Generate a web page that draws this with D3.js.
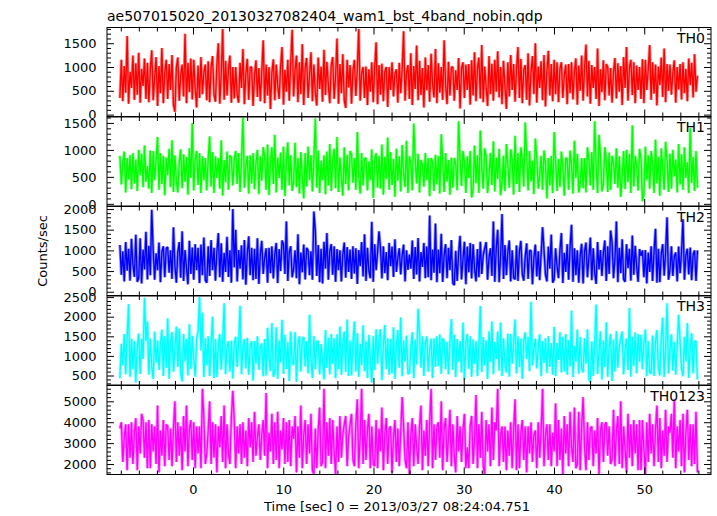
<!DOCTYPE html>
<html><head><meta charset="utf-8">
<script src="https://cdn.jsdelivr.net/npm/d3@7"></script>
<style>
html,body{margin:0;padding:0;background:#fff;}
svg{display:block;}
text{font-family:"DejaVu Sans",sans-serif;fill:#000;}
</style></head>
<body>
<svg id="chart" width="717" height="516"></svg>
<script>
// ---------- data ----------
const chartTitle = "ae507015020_20130327082404_wam1_bst_4band_nobin.qdp";
const xTitle = "Time [sec] 0 = 2013/03/27 08:24:04.751";
const yTitle = "Counts/sec";
const bandNames = ["TH0", "TH1", "TH2", "TH3", "TH0123"];
const bandColors = ["#ff0000", "#00ff00", "#0000ff", "#00ffff", "#ff00ff"];
const binStart = -8.1;     // sec
const binWidth = 0.1604;   // sec
const xTicks = [0, 10, 20, 30, 40, 50];

const th0 = [350,1150,280,1020,460,1650,230,900,560,1240,310,1080,420,1300,250,960,600,1180,330,1090,
260,940,1350,300,780,1210,180,1020,450,1400,240,880,1150,330,1060,520,1250,210,60,990,
1200,290,830,1050,380,1700,240,1090,470,1180,320,1150,560,150,1030,350,1210,430,880,1050,
300,1120,260,980,1230,420,270,1060,1500,230,840,1800,310,1130,400,960,1240,250,1000,340,
1000,420,250,1090,560,1380,220,850,1170,310,990,1000,180,820,1140,370,980,280,900,1560,
240,1050,400,1000,120,880,1160,300,1050,620,330,1000,1420,210,940,480,1150,290,1080,1780,
380,950,1240,260,1100,430,1480,200,980,1190,350,830,1310,280,1050,460,190,1200,540,1010,
270,1360,410,1110,620,240,1030,1210,330,800,1600,230,1060,450,1270,300,140,1150,570,1040,
230,920,1150,390,950,1800,290,870,1000,350,1010,200,950,480,1100,260,960,1520,220,1040,
420,1070,280,900,1000,160,1000,520,1100,380,860,950,250,1090,450,960,1750,290,880,1040,
330,1290,200,1020,540,1450,300,1130,410,980,150,1200,510,1040,270,1280,650,360,1380,240,
1080,460,1000,310,1560,620,220,1110,400,990,1000,290,930,520,1190,130,960,1100,350,1050,
520,1060,210,1140,400,1310,280,960,1200,340,1460,260,1010,580,180,1230,430,1070,290,1150,
480,1330,360,1000,220,1130,590,120,1100,380,1250,520,1060,270,960,1420,350,1170,240,940,
1040,310,1290,190,890,1230,430,1500,250,1010,560,1120,300,1250,170,920,1340,400,1060,280,
1150,430,1100,260,960,1100,350,820,1050,220,1060,450,1100,320,900,1180,210,1030,500,1240,
290,980,1470,380,1130,230,1040,560,1000,330,1390,180,950,470,1140,300,1060,1000,400,980,
250,900,1190,340,1080,480,1020,200,1210,560,1420,290,980,1150,410,1100,240,1030,520,1000,
330,1160,240,1150,520,950,1460,310,1100,440,1050,190,1010,620,1200,370,1390,260,1060,500,
1050,420,880,1140,250,1000,530,1060,320,1100,450,960,280,1180,620,1090,360,1270,480,820];

const th1 = [890,360,750,970,210,850,450,900,270,940,380,820,240,1000,530,930,310,1080,410,700,
280,990,200,980,440,810,1240,260,940,370,890,160,860,530,1020,310,1180,220,900,430,
210,770,1010,290,920,410,870,170,1030,480,1500,250,830,980,350,940,200,880,440,850,
250,830,1250,320,960,200,880,480,850,280,1180,150,810,400,970,260,900,850,340,830,
980,370,940,220,820,1600,300,700,890,190,900,380,940,270,770,1000,180,880,430,1050,
880,260,1100,160,760,1050,370,1280,210,860,480,950,260,1060,140,780,1140,340,900,240,
410,1130,310,850,190,960,500,100,940,320,1060,440,900,230,820,1580,300,990,200,800,
440,900,180,970,340,1110,240,820,1020,290,1240,220,860,490,150,1050,370,910,250,980,
920,390,850,260,1330,530,190,940,340,840,850,250,790,440,1010,110,820,940,300,890,
280,1100,170,870,460,1230,260,960,350,830,130,1020,430,880,230,1090,550,310,1170,200,
880,750,250,1490,820,380,930,210,810,730,320,940,440,850,140,850,770,240,910,360,
880,190,1290,820,220,940,410,810,170,860,300,850,740,250,1530,810,330,980,780,200,
880,480,980,120,260,1080,380,900,200,1360,680,280,1030,880,200,530,940,350,1160,230,
860,460,1020,160,390,890,240,1110,710,300,1010,830,170,1260,370,940,220,1050,810,320,
1510,920,250,980,410,800,180,1210,850,280,530,890,260,990,750,100,850,340,890,200,
1330,770,240,830,310,970,700,150,850,840,260,990,720,190,1170,480,930,210,360,850,
290,850,210,1050,820,340,960,260,1530,710,200,1280,900,230,360,1050,830,220,950,260,
890,750,370,1030,300,880,130,480,980,270,1000,400,930,200,1450,320,890,710,250,1020,
840,50,180,1060,440,900,280,980,750,200,1190,380,870,150,1030,660,260,1150,800,220,
930,280,1000,510,820,210,1110,360,920,260,1050,480,770,200,1400,390,870,240,980,300];

const th2 = [1130,410,980,250,1200,510,1040,270,1280,650,360,1380,240,330,1290,200,1020,540,1450,300,
1110,400,1980,1000,290,930,520,1190,230,960,1100,350,1050,1080,460,1000,310,1560,620,220,
960,1200,340,1460,260,1010,580,180,1230,430,1070,290,1150,520,1060,210,1140,400,1310,280,
220,1100,380,1250,520,1060,270,960,1420,350,1170,240,940,480,1330,360,1000,220,2000,590,
1500,250,1010,560,1120,300,1250,170,920,1340,400,1060,280,1040,310,1290,190,890,1230,430,
820,1050,220,1060,450,1100,320,900,1180,210,1030,500,1240,1150,430,1700,260,960,1100,350,
560,1000,330,1390,180,950,470,1140,300,1060,1000,400,980,290,1940,1470,380,1130,230,1040,
200,1210,560,1420,290,980,1150,410,1100,240,1030,520,1000,250,900,1190,340,1080,480,1020,
310,1100,440,1050,190,1010,620,1200,370,1390,260,1060,500,330,1690,240,1150,520,950,1460,
1060,320,1100,450,960,280,1180,620,1090,360,1270,480,820,1050,420,880,1140,250,1000,530,
900,560,1240,310,1080,420,1300,250,960,600,1180,330,1090,350,1840,280,1020,460,1650,230,
1020,450,1400,240,880,1150,330,1060,520,1250,210,160,990,260,940,1350,300,780,1210,180,
1090,470,1180,320,1150,560,250,1030,350,1210,430,880,1050,1200,290,830,1050,380,1700,240,
1060,1500,230,840,1880,310,1130,400,960,1240,250,1000,340,300,1120,260,980,1230,420,270,
850,1170,310,990,1000,180,820,1140,370,980,280,900,1560,1000,420,250,1090,560,1380,220,
300,1050,620,330,1000,1420,210,940,480,1150,290,1080,1620,240,1050,400,1000,220,880,1160,
200,980,1190,350,830,1310,280,1050,460,190,1200,540,1010,380,950,1240,260,1100,430,1480,
1210,330,800,1700,230,1060,450,1270,300,240,1150,570,1040,270,1360,410,1110,620,240,1030,
870,1000,350,1010,200,950,480,1100,260,960,1520,220,1040,230,920,1150,390,950,1800,290,
520,1100,380,860,950,250,1090,450,960,1750,290,880,1040,420,1070,280,900,1000,260,1000];

const th3 = [430,1310,760,1560,530,1480,2320,470,1440,660,1380,320,1240,1570,540,1440,920,2480,1380,1880,
520,1440,730,410,1620,830,1390,640,1320,1670,490,1500,700,1960,420,1360,1610,600,1180,1750,
720,1700,540,350,1560,860,1430,500,1810,670,1510,920,470,1420,1630,2500,1140,2100,460,1450,
760,1500,490,1330,2000,440,1430,460,1280,1560,650,1320,2340,530,1220,1380,600,1390,420,1320,
1490,720,1330,2280,530,1240,1430,680,1460,520,1260,1380,370,1380,800,1500,640,1210,1320,480,
1430,500,1720,960,610,1840,470,580,1730,420,1400,830,1920,540,1540,670,1360,360,1620,790,
800,1610,340,1330,1500,600,1440,1480,730,1380,550,2050,920,440,1510,660,1370,1380,530,1300,
880,400,1660,700,1460,530,1560,800,1450,430,1550,660,1750,520,1330,1620,590,1930,490,1390,
500,1330,1880,600,1580,470,1310,760,1780,610,1380,440,1540,890,320,1500,640,1680,800,1450,
1680,380,1280,1790,660,1450,520,1430,550,1730,410,1250,1660,700,1980,480,1390,850,1520,540,
560,1260,1600,430,1420,780,2200,1560,700,1500,490,1330,1500,600,1160,1440,440,1450,720,1500,
740,1550,540,1450,1380,660,1360,530,1360,1940,640,1540,460,1430,850,1380,580,1850,400,1320,
1560,670,1500,470,1420,800,1380,480,1260,2270,590,1480,760,1400,420,1630,850,1880,530,1360,
920,1620,620,1850,490,1450,780,580,1570,470,1560,800,1320,1930,550,1500,710,1440,410,1390,
1600,920,1490,610,2380,760,1160,1440,680,1240,1550,480,1380,820,1450,560,1500,720,1330,520,
1740,480,1330,900,1600,580,1490,600,1560,520,1400,730,2160,460,1260,850,1670,550,1480,680,
580,1450,800,1680,430,330,1370,490,1310,2310,540,1120,1630,400,1400,720,1860,470,1240,1560,
360,1420,600,1630,700,1240,1440,1620,530,1180,1440,640,2220,470,1490,740,1600,560,1560,850,
1540,660,1330,1670,480,1380,590,540,1520,490,1360,1660,680,500,1450,1980,460,1190,2340,550,
1160,1550,620,1360,520,1260,2050,1380,680,480,1490,850,1840,440,1200,1580,550,1370,1380,400];

const th0123 = [3700,4000,2100,3300,3900,1700,3900,2300,4000,2000,3500,4200,1700,3800,2500,4400,4100,2300,4000,1800,
4100,1800,3900,2600,3800,2000,4800,1600,3600,2400,4100,1900,3900,3800,2200,3700,1900,3700,5000,2100,
4000,2400,3800,1700,4300,2600,4800,1900,3700,4100,2200,4000,1800,3800,2500,3800,1800,5600,4200,2000,
2500,3600,5000,2000,4000,2300,3900,1600,3800,2800,4300,2100,4800,1800,3900,2500,2000,4200,5500,4100,
1800,3800,2500,3900,2000,4000,2300,3600,1900,4200,2800,4000,2100,4500,2400,3300,3900,2200,3400,4100,
2400,5400,1800,3500,2600,4400,2000,4000,2200,4500,1800,3600,2700,4200,2000,4000,2100,4100,1900,3800,
3200,4300,1600,3800,2300,4800,1800,3400,4100,2000,3900,2500,4400,1700,1500,3700,1800,3600,4700,1900,
2100,5600,1800,4000,2400,4200,2000,4100,2600,1500,3800,2100,4300,2300,3400,3900,4300,1900,3300,3900,
4400,2200,1900,3900,5100,1800,3300,5600,2000,4100,2200,3600,4400,1800,3800,2000,1900,4100,1800,3700,
2600,4700,1700,3400,4200,2000,3700,3800,1600,3300,4100,2100,3700,1900,3500,5200,3800,2200,1800,4000,
1500,3400,4200,1900,3900,2800,2000,3800,4800,1700,3600,2400,4100,1900,4000,5600,1800,3900,2200,3800,
4000,2300,5000,1700,3700,4200,2100,3300,4600,1900,3900,2400,1600,4300,2600,3800,2100,3600,4400,1800,
2800,1800,3800,4300,2000,3200,5300,1800,3900,2300,4500,1900,1500,4100,2600,3900,1900,4700,2200,4000,
3600,5600,1900,3400,3800,2100,3800,1700,3600,2400,4000,1800,3600,5100,1700,3900,1800,3500,4100,2200,
3800,1600,3800,2500,4000,2100,3400,3600,1800,4000,2300,3600,5600,1900,3400,3900,2200,3900,1900,3500,
2600,4900,1900,4100,2200,3700,1500,4300,2500,3900,1900,4500,2800,2100,4700,1800,2000,4500,1700,3800,
5200,2800,1700,4000,2200,3700,3800,1900,3600,2500,4200,1500,3600,4000,2100,3900,4000,2400,3800,2000,
2200,4600,1900,3600,4300,2000,5000,1800,3800,2700,1600,4400,2300,3900,1900,4100,2500,3900,1700,4100,
1700,4100,2700,1500,4000,2100,4400,2500,3900,1900,3600,4800,2100,4200,1800,3600,2400,4600,2100,3800,
3500,4400,2300,5100,1800,3800,2600,4100,1900,4400,1600,3500,4600,2200,3900,1900,3900,2000,4500,1600];

const series = [th0, th1, th2, th3, th0123];
const yDomains = [[-40, 1830], [-40, 1610], [-90, 2060], [258, 2528], [1500, 5756]];
const yMajorTicks = [[0,500,1000,1500],[0,500,1000,1500],[0,500,1000,1500,2000],[500,1000,1500,2000,2500],[2000,3000,4000,5000]];
const yMinorStep = [100, 100, 100, 100, 200];

// ---------- layout ----------
const svg = d3.select("#chart");
const plotLeft = 107, plotRight = 711;
const panelTop0 = 27.5, panelStep = 89.5, panelH = 89;
const x = d3.scaleLinear().domain([-9.53, 57.4]).range([plotLeft, plotRight]);
const xMinor = d3.range(-8, 57, 2);
const MAJ = 7, MIN = 4;

svg.append("text").attr("x", plotLeft).attr("y", 21)
  .style("font-size", "14px").text(chartTitle);

series.forEach((vals, k) => {
  const top = panelTop0 + k * panelStep, bot = top + panelH;
  const y = d3.scaleLinear().domain(yDomains[k]).range([bot, top]);
  const g = svg.append("g");

  const cid = "clip" + k;
  svg.append("clipPath").attr("id", cid).append("rect")
    .attr("x", plotLeft).attr("y", top).attr("width", plotRight - plotLeft).attr("height", panelH);

  const line = d3.line()
    .x((d, i) => x(binStart + i * binWidth))
    .y(d => y(d));
  g.append("path").datum(vals)
    .attr("clip-path", `url(#${cid})`)
    .attr("fill", "none").attr("stroke", bandColors[k])
    .attr("stroke-width", 3.0).attr("stroke-opacity", 0.45).attr("stroke-linejoin", "bevel")
    .attr("d", line);
  g.append("path").datum(vals)
    .attr("clip-path", `url(#${cid})`)
    .attr("fill", "none").attr("stroke", bandColors[k])
    .attr("stroke-width", 1.35).attr("stroke-linejoin", "bevel")
    .attr("d", line);

  const [d0, d1] = yDomains[k];
  const minors = d3.range(Math.ceil(d0 / yMinorStep[k]) * yMinorStep[k], d1, yMinorStep[k])
    .filter(v => !yMajorTicks[k].includes(v));

  const styleAxis = sel => {
    sel.select(".domain").remove();
    sel.selectAll("line").attr("stroke", "#000");
    sel.selectAll("text").style("font-size", "13px").style("font-family", "DejaVu Sans, sans-serif");
  };

  g.append("g").attr("transform", `translate(${plotLeft},0)`)
    .call(d3.axisLeft(y).tickValues(yMajorTicks[k]).tickSizeInner(-MAJ).tickSizeOuter(0).tickPadding(10.5).tickFormat(d3.format("d")))
    .call(styleAxis);
  g.append("g").attr("transform", `translate(${plotLeft},0)`)
    .call(d3.axisLeft(y).tickValues(minors).tickSizeInner(-MIN).tickSizeOuter(0).tickFormat(""))
    .call(styleAxis);
  g.append("g").attr("transform", `translate(${plotRight},0)`)
    .call(d3.axisRight(y).tickValues(yMajorTicks[k]).tickSizeInner(-MAJ).tickSizeOuter(0).tickFormat(""))
    .call(styleAxis);
  g.append("g").attr("transform", `translate(${plotRight},0)`)
    .call(d3.axisRight(y).tickValues(minors).tickSizeInner(-MIN).tickSizeOuter(0).tickFormat(""))
    .call(styleAxis);
  g.append("g").attr("transform", `translate(0,${top})`)
    .call(d3.axisTop(x).tickValues(xTicks).tickSizeInner(-MAJ).tickSizeOuter(0).tickFormat(""))
    .call(styleAxis);
  g.append("g").attr("transform", `translate(0,${top})`)
    .call(d3.axisTop(x).tickValues(xMinor.filter(v => v % 10 !== 0)).tickSizeInner(-MIN).tickSizeOuter(0).tickFormat(""))
    .call(styleAxis);
  const last = k === series.length - 1;
  g.append("g").attr("transform", `translate(0,${bot})`)
    .call(d3.axisBottom(x).tickValues(xTicks).tickSizeInner(-MAJ).tickSizeOuter(0).tickPadding(10)
      .tickFormat(last ? d3.format("d") : ""))
    .call(styleAxis);
  g.append("g").attr("transform", `translate(0,${bot})`)
    .call(d3.axisBottom(x).tickValues(xMinor.filter(v => v % 10 !== 0)).tickSizeInner(-MIN).tickSizeOuter(0).tickFormat(""))
    .call(styleAxis);

  g.append("rect").attr("x", plotLeft).attr("y", top)
    .attr("width", plotRight - plotLeft).attr("height", panelH)
    .attr("fill", "none").attr("stroke", "#000").attr("stroke-width", 1);

  g.append("text").attr("x", 705).attr("y", top + 15)
    .attr("text-anchor", "end").style("font-size", "14px").text(bandNames[k]);
});

svg.append("text").attr("x", 397).attr("y", 511)
  .attr("text-anchor", "middle").style("font-size", "13px").text(xTitle);
svg.append("text").attr("transform", "translate(47,251) rotate(-90)")
  .attr("text-anchor", "middle").style("font-size", "13px").text(yTitle);
</script>
</body></html>
